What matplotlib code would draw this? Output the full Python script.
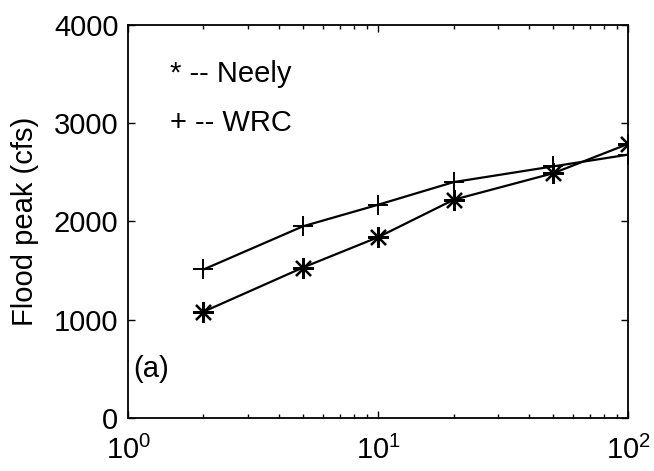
import numpy as np
import matplotlib
matplotlib.use('Agg')
import matplotlib.pyplot as plt

# return period (years) and flood peaks (cfs)
return_period = [2, 5, 10, 20, 50, 100]
neely_peak = [1080, 1530, 1840, 2220, 2490, 2790]
wrc_peak = [1510, 1950, 2170, 2400, 2560, 2680]

plt.rcParams['font.family'] = ['Liberation Sans', 'DejaVu Sans']
plt.rcParams['mathtext.default'] = 'regular'

FS = 21

fig = plt.figure(figsize=(6.54, 4.71), dpi=100)
ax = fig.add_axes([0.196, 0.113, 0.765, 0.834])

ax.plot(return_period, neely_peak, color='black', linewidth=1.6,
        marker=(8, 2, 0), markersize=15, markeredgewidth=1.6)
ax.plot(return_period, wrc_peak, color='black', linewidth=1.6,
        marker='+', markersize=15, markeredgewidth=1.4)

ax.set_xscale('log')
ax.set_xlim(1, 100)
ax.set_ylim(0, 4000)
ax.set_yticks([0, 1000, 2000, 3000, 4000])
ax.set_ylabel('Flood peak (cfs)', fontsize=FS)
ax.yaxis.set_label_coords(-0.178, 0.5)

ax.tick_params(axis='both', which='major', direction='in', length=5,
               width=1, top=True, right=True, labelsize=FS)
ax.tick_params(axis='x', which='minor', direction='in', length=3,
               width=1, top=True)
ax.tick_params(axis='x', which='major', pad=13)
ax.tick_params(axis='y', which='major', pad=7)
for sp in ax.spines.values():
    sp.set_linewidth(1.3)

ax.text(1.47, 3500, '* -- Neely', fontsize=FS, va='center', ha='left')
ax.text(1.47, 3000, '+ -- WRC', fontsize=FS, va='center', ha='left')
ax.text(1.05, 500, '(a)', fontsize=FS, va='center', ha='left')

fig.savefig('out.png', dpi=100)
